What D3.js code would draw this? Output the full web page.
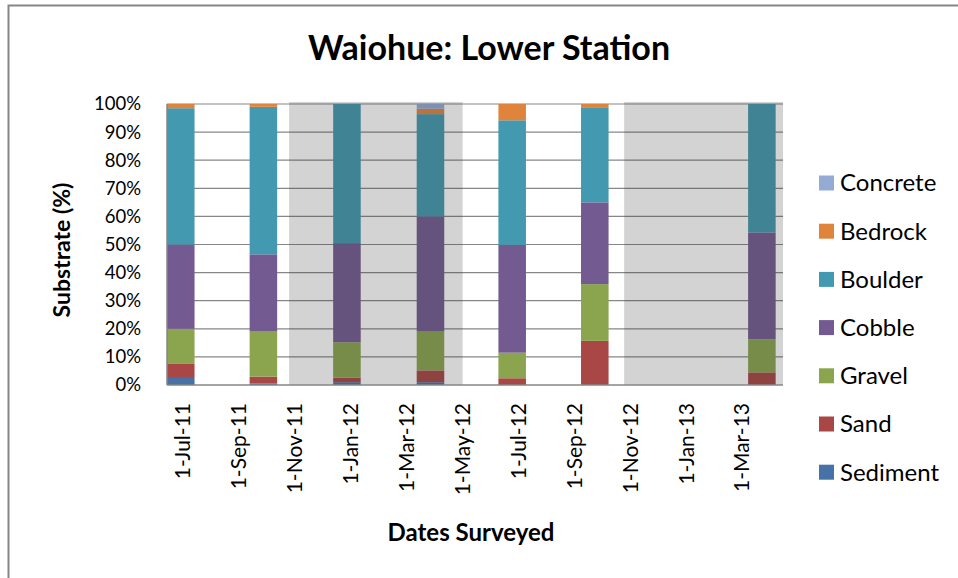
<!DOCTYPE html>
<html>
<head>
<meta charset="utf-8">
<script src="https://cdn.jsdelivr.net/npm/d3@7/dist/d3.min.js"></script>
<style>
  html, body { margin: 0; padding: 0; background: #fff; }
  svg { display: block; font-family: Lato, "Open Sans", sans-serif; }
</style>
</head>
<body>
<svg id="chart" width="958" height="578"></svg>
<script>
// Survey dates (quarterly) and substrate composition (% of each survey)
const surveyDates = ["2011-06-30", "2011-09-28", "2011-12-28", "2012-03-28", "2012-06-25", "2012-09-23", "2013-03-24"];
const seriesNames = ["Sediment", "Sand", "Gravel", "Cobble", "Boulder", "Bedrock", "Concrete"];
const sediment = [2.5, 0.5, 1.0, 1.0, 0.0, 0.0, 0.0];
const sand     = [5.0, 2.5, 1.6, 4.2, 2.4, 15.7, 4.5];
const gravel   = [12.5, 16.0, 12.6, 13.8, 9.1, 20.2, 11.8];
const cobble   = [30.0, 27.5, 35.3, 41.0, 38.4, 29.1, 38.0];
const boulder  = [48.5, 52.5, 49.5, 36.4, 44.3, 33.6, 45.7];
const bedrock  = [1.5, 1.0, 0.0, 1.9, 5.8, 1.4, 0.0];
const concrete = [0.0, 0.0, 0.0, 1.7, 0.0, 0.0, 0.0];
const seriesColors = ["#4672A8", "#A84745", "#8AA54D", "#735A91", "#4299B0", "#E0843C", "#94ABD4"];

// Shaded periods between surveys
const shadedStart = ["2011-10-26", "2012-10-25"];
const shadedEnd   = ["2012-05-02", "2013-04-16"];

// Axis ticks
const yTicks = [0, 10, 20, 30, 40, 50, 60, 70, 80, 90, 100];
const xTickDates = ["2011-07-01", "2011-09-01", "2011-11-01", "2012-01-01", "2012-03-01", "2012-05-01",
                    "2012-07-01", "2012-09-01", "2012-11-01", "2013-01-01", "2013-03-01"];
const axisStart = "2011-06-15";
const axisEnd = "2013-04-16";

const parse = d3.utcParse("%Y-%m-%d");
const fmt = d3.utcFormat("%-d-%b-%y");

const svg = d3.select("#chart");
const plot = { left: 167, right: 783, top: 104, bottom: 385 };

const x = d3.scaleUtc().domain([parse(axisStart), parse(axisEnd)]).range([plot.left, plot.right]);
const y = d3.scaleLinear().domain([0, 100]).range([plot.bottom, plot.top]);

// Outer chart border
svg.append("path")
  .attr("d", "M8.5,600 L8.5,5.5 L960,5.5")
  .attr("fill", "none").attr("stroke", "#868686").attr("stroke-width", 2);

// Title
svg.append("text")
  .attr("x", 489).attr("y", 60)
  .attr("text-anchor", "middle")
  .attr("font-size", 34).attr("font-weight", "bold")
  .text("Waiohue: Lower Station");

// Gridlines
svg.append("g").selectAll("line")
  .data(yTicks.filter(t => t > 0))
  .join("line")
  .attr("x1", plot.left).attr("x2", plot.right)
  .attr("y1", d => y(d)).attr("y2", d => y(d))
  .attr("stroke", "#878787").attr("stroke-width", 1.2);

// Stacked bars
const rows = surveyDates.map((d, i) => ({
  date: parse(d),
  Sediment: sediment[i], Sand: sand[i], Gravel: gravel[i], Cobble: cobble[i],
  Boulder: boulder[i], Bedrock: bedrock[i], Concrete: concrete[i]
}));
const stacked = d3.stack().keys(seriesNames)(rows);
const halfWidth = d => (x(d3.utcDay.offset(d, 15)) - x(d3.utcDay.offset(d, -15))) / 2;

svg.append("g").selectAll("g")
  .data(stacked)
  .join("g")
  .attr("fill", (s, i) => seriesColors[i])
  .selectAll("rect")
  .data(s => s)
  .join("rect")
  .attr("x", d => x(d.data.date) - halfWidth(d.data.date))
  .attr("width", d => 2 * halfWidth(d.data.date))
  .attr("y", d => y(d[1]))
  .attr("height", d => Math.max(0, y(d[0]) - y(d[1])));

// Shaded periods drawn over the bars
svg.append("g").selectAll("rect")
  .data(shadedStart.map((s, i) => [parse(s), parse(shadedEnd[i])]))
  .join("rect")
  .attr("x", d => x(d[0]))
  .attr("width", d => x(d[1]) - x(d[0]))
  .attr("y", plot.top - 2)
  .attr("height", plot.bottom - plot.top + 2)
  .attr("fill", "#363636").attr("fill-opacity", 0.22);

// Axis lines
svg.append("line")
  .attr("x1", plot.left).attr("x2", plot.left)
  .attr("y1", plot.top).attr("y2", plot.bottom)
  .attr("stroke", "#868686").attr("stroke-width", 1.5);
svg.append("line")
  .attr("x1", plot.left).attr("x2", plot.right)
  .attr("y1", plot.bottom).attr("y2", plot.bottom)
  .attr("stroke", "#868686").attr("stroke-width", 1.5);

// Y axis labels
const yAxis = d3.axisLeft(y).tickValues(yTicks).tickFormat(d => d + "%").tickSize(0).tickPadding(0);
const gy = svg.append("g").attr("transform", "translate(141,0)").call(yAxis);
gy.select(".domain").remove();
gy.selectAll("text").attr("font-size", 18.5).attr("fill", "#000").attr("font-family", "Lato, sans-serif");

// X axis labels (rotated)
const xAxis = d3.axisBottom(x).tickValues(xTickDates.map(parse)).tickFormat(fmt).tickSize(0);
const gx = svg.append("g").attr("transform", `translate(0,${plot.bottom})`).call(xAxis);
gx.select(".domain").remove();
gx.selectAll("text")
  .attr("font-size", 21).attr("fill", "#000").attr("font-family", "Lato, sans-serif")
  .attr("text-anchor", "end")
  .attr("transform", "rotate(-90)")
  .attr("x", -18).attr("y", 0).attr("dy", "0.35em");

// Axis titles
svg.append("text")
  .attr("transform", "translate(70,250) rotate(-90)")
  .attr("text-anchor", "middle")
  .attr("font-size", 23).attr("font-weight", "bold")
  .text("Substrate (%)");
svg.append("text")
  .attr("x", 471).attr("y", 541)
  .attr("text-anchor", "middle")
  .attr("font-size", 24).attr("font-weight", "bold")
  .text("Dates Surveyed");

// Legend
const legendOrder = seriesNames.slice().reverse();
const legend = svg.append("g").selectAll("g")
  .data(legendOrder)
  .join("g")
  .attr("transform", (d, i) => `translate(819,${183 + i * 48.2})`);
legend.append("rect")
  .attr("x", 0).attr("y", -7.5).attr("width", 15).attr("height", 15)
  .attr("fill", d => seriesColors[seriesNames.indexOf(d)]);
legend.append("text")
  .attr("x", 21).attr("y", 0).attr("dy", "0.35em")
  .attr("font-size", 24)
  .text(d => d);
</script>
</body>
</html>
